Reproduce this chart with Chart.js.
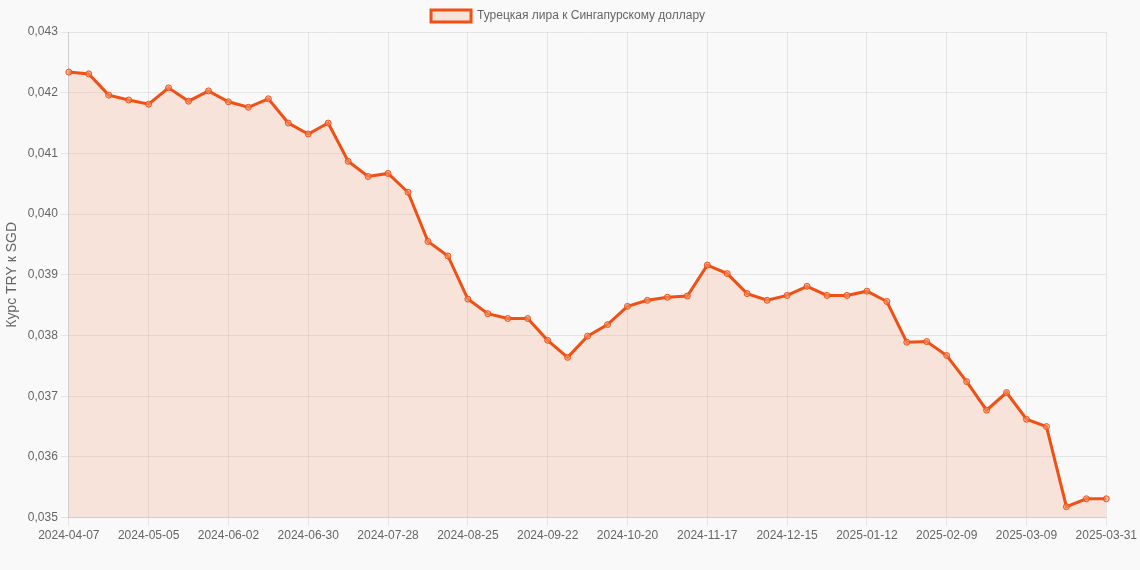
<!DOCTYPE html>
<html>
<head>
<meta charset="utf-8">
<script src="https://cdn.jsdelivr.net/npm/chart.js@4"></script>
<style>
  html, body { margin: 0; padding: 0; background: #f9f9f9; }
  #wrap { width: 1140px; height: 570px; }
</style>
</head>
<body>
<div id="wrap"><canvas id="myChart"></canvas></div>
<script>
var startDates = ["2024-04-07"];
(function () {
  var d = new Date("2024-04-07T00:00:00Z");
  for (var i = 1; i < 52; i++) {
    d.setUTCDate(d.getUTCDate() + 7);
    startDates.push(d.toISOString().slice(0, 10));
  }
})();
var labels = startDates.concat(["2025-03-31"]);

var rates = [
  0.04234, 0.04231, 0.04196, 0.04188, 0.04181, 0.04208, 0.04186, 0.04203, 0.04185, 0.04176,
  0.04190, 0.04150, 0.04132, 0.04150, 0.04087, 0.04062, 0.04067, 0.04036, 0.03955, 0.03931,
  0.03860, 0.03836, 0.03828, 0.03828, 0.03792, 0.03764, 0.03799, 0.03818, 0.03848, 0.03858,
  0.03863, 0.03865, 0.03916, 0.03902, 0.03869, 0.03858, 0.03866, 0.03881, 0.03866, 0.03866,
  0.03873, 0.03856, 0.03789, 0.03790, 0.03767, 0.03724, 0.03677, 0.03706, 0.03662, 0.03650,
  0.03518, 0.03531, 0.03531
];

Chart.defaults.font.family = "'Liberation Sans', Arial, sans-serif";
Chart.defaults.color = "#666";

var ctx = document.getElementById("myChart");
new Chart(ctx, {
  type: 'line',
  data: {
    labels: labels,
    datasets: [{
      label: "Турецкая лира к Сингапурскому доллару",
      data: rates,
      borderColor: "rgba(240, 80, 20, 1)",
      backgroundColor: "rgba(240, 150, 110, 0.22)",
      borderWidth: 3,
      pointRadius: 3,
      pointBackgroundColor: "rgba(240, 150, 110, 0.6)",
      pointBorderColor: "rgba(240, 80, 20, 1)",
      pointBorderWidth: 1,
      fill: true,
      tension: 0
    }]
  },
  options: {
    responsive: true,
    maintainAspectRatio: false,
    animation: false,
    layout: { padding: { right: 4, left: 0, top: 0, bottom: 24 } },
    plugins: {
      legend: {
        labels: { boxWidth: 40, font: { size: 12 } }
      }
    },
    scales: {
      x: {
        grid: { color: "rgba(0,0,0,0.08)" },
        ticks: {
          autoSkip: false,
          maxRotation: 0,
          font: { size: 12 },
          callback: function (v, i) {
            return (i % 4 === 0 || i === labels.length - 1) ? labels[i] : null;
          }
        }
      },
      y: {
        min: 0.035,
        max: 0.043,
        grid: { color: "rgba(0,0,0,0.08)" },
        title: { display: true, text: "Курс TRY к SGD", font: { size: 14 } },
        ticks: {
          stepSize: 0.001,
          font: { size: 12 },
          callback: function (v) { return v.toFixed(3).replace('.', ','); }
        }
      }
    }
  }
});
</script>
</body>
</html>
